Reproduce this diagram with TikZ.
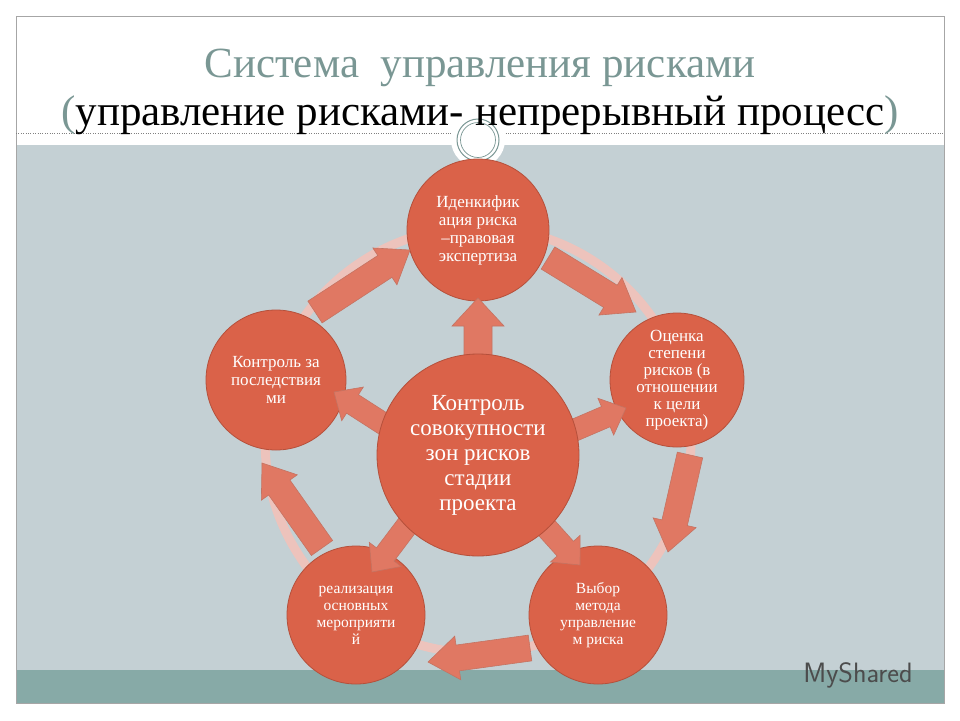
\documentclass[tikz,border=0pt]{standalone}
\usepackage{fontspec}
\setmainfont{Liberation Serif}
\usetikzlibrary{calc}
\definecolor{circ}{HTML}{DA6249}
\definecolor{circd}{HTML}{B5503B}
\definecolor{arr}{HTML}{E07863}
\definecolor{bg}{HTML}{C4D0D4}
\definecolor{band}{HTML}{87AAA7}
\definecolor{ttl}{HTML}{7A9794}
\definecolor{ring}{HTML}{EDC3BC}
\tikzset{
 circ/.style={circle,fill=circ,draw=circd,line width=0.8pt,text=white,align=center,font=\fontsize{17}{18}\selectfont,inner sep=0pt},
 arrowst/.style={fill=arr,draw=circd!80,line width=0.6pt,line join=miter}
}
\newcommand{\blk}[5]{%
 \coordinate (hb) at ($(#2)!#5!(#1)$);
 \draw[arrowst] ($(#1)!#3!90:(#2)$) -- ($(hb)!#3!-90:(#1)$) -- ($(hb)!#4!-90:(#1)$) -- (#2) -- ($(hb)!#4!90:(#1)$) -- ($(hb)!#3!90:(#1)$) -- ($(#1)!#3!-90:(#2)$) -- cycle;}
\begin{document}
\begin{tikzpicture}[x=1pt,y=-1pt]
\useasboundingbox (0,0) rectangle (960,720);
\fill[white] (0,0) rectangle (960,720);
\fill[bg] (16,145) rectangle (944,670);
\fill[band] (16,670) rectangle (944,703);
\draw[gray!70,line width=0.8pt] (16,16) rectangle (944,703);
\draw[gray,dotted] (16,133) -- (944,133);
\fill[white] (478,140) circle (27);
\draw[ttl,line width=1pt] (478,140) circle (21);
\draw[ttl,line width=0.7pt] (478,140) circle (17.5);
\node[text=ttl,font=\fontsize{43}{43}\selectfont] (t1) at (480,68) {Система \ управления рисками};
\node[font=\fontsize{43}{43}\selectfont] (t2) at (480,115) {\textcolor{ttl}{(}управление рисками- непрерывный процесс\textcolor{ttl}{)}};
\draw[ring,line width=9pt] (478,440) circle (213);
\node[circ,minimum size=142pt] (top) at (478,230) {Иденкифик\\ация риска\\–правовая\\экспертиза};
\node[circ,minimum size=134pt,font=\fontsize{17}{17}\selectfont] (right) at (677,380) {Оценка\\степени\\рисков (в\\отношении\\к цели\\проекта)};
\node[circ,minimum size=138pt,font=\fontsize{15.5}{17}\selectfont] (br) at (598,615) {Выбор\\метода\\управление\\м риска};
\node[circ,minimum size=138pt,font=\fontsize{15.5}{17}\selectfont] (bl) at (356,615) {реализация\\основных\\мероприяти\\й};
\node[circ,minimum size=140pt] (left) at (276,380) {Контроль за\\последствия\\ми};
\coordinate (a1) at (315,312); \coordinate (a2) at (410,250);
\coordinate (b1) at (548,258); \coordinate (b2) at (636,312);
\coordinate (c1) at (690,455); \coordinate (c2) at (668,552);
\coordinate (d1) at (530,648); \coordinate (d2) at (428,662);
\coordinate (e1) at (322,548); \coordinate (e2) at (262,463);
\blk{a1}{a2}{13pt}{22pt}{30pt}
\blk{b1}{b2}{13pt}{22pt}{30pt}
\blk{c1}{c2}{13pt}{22pt}{30pt}
\blk{d1}{d2}{13pt}{22pt}{30pt}
\blk{e1}{e2}{13pt}{22pt}{30pt}
\coordinate (f1) at (478,365); \coordinate (f2) at (478,298);
\coordinate (g1) at (390,428); \coordinate (g2) at (334,392);
\coordinate (h1) at (570,432); \coordinate (h2) at (626,408);
\coordinate (i1) at (415,515); \coordinate (i2) at (372,572);
\coordinate (j1) at (535,515); \coordinate (j2) at (580,565);
\blk{f1}{f2}{14pt}{26pt}{28pt}
\blk{g1}{g2}{11pt}{20pt}{22pt}
\blk{h1}{h2}{11pt}{20pt}{22pt}
\blk{i1}{i2}{11pt}{20pt}{22pt}
\blk{j1}{j2}{11pt}{20pt}{22pt}
\node[circ,minimum size=202pt,font=\fontsize{23}{25}\selectfont] (c) at (478,455) {Контроль\\совокупности\\зон рисков\\стадии\\проекта};
\node[text=gray!60!black,font=\sffamily\fontsize{28}{28}\selectfont] (logo) at (858,675) {MyShared};
\end{tikzpicture}
\end{document}
